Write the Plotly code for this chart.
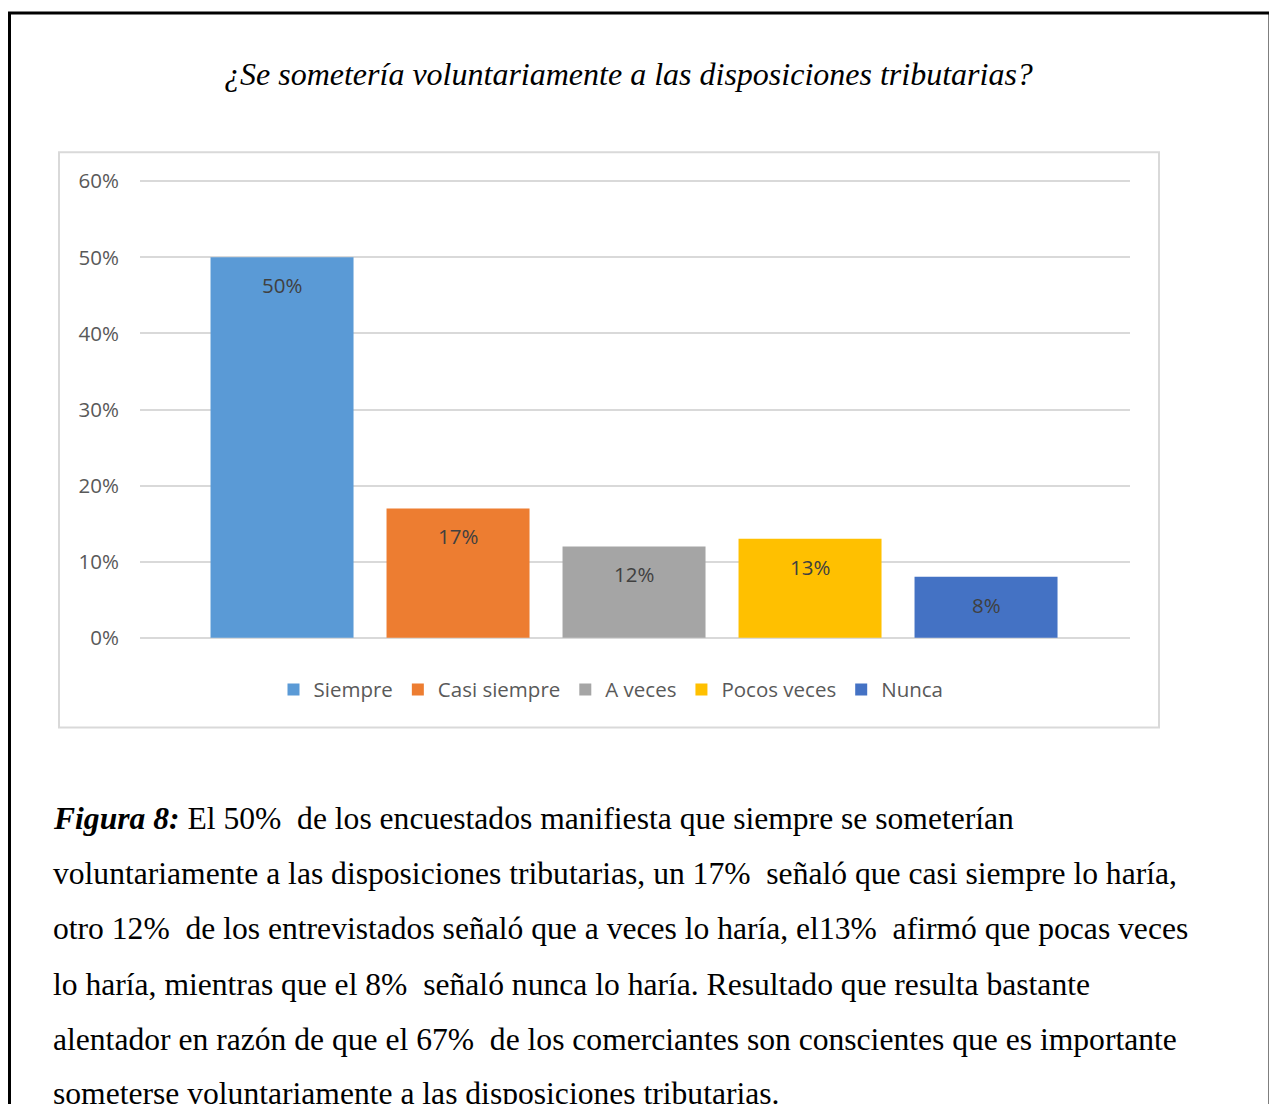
import plotly.graph_objects as go

# ---- data ----
categories = ["Siempre", "Casi siempre", "A veces", "Pocos veces", "Nunca"]
values = [0.50, 0.17, 0.12, 0.13, 0.08]
value_labels = ["50%", "17%", "12%", "13%", "8%"]
tick_vals = [0, 0.1, 0.2, 0.3, 0.4, 0.5, 0.6]
tick_text = ["0%", "10%", "20%", "30%", "40%", "50%", "60%"]
colors = ["#5A9AD6", "#ED7D31", "#A5A5A5", "#FFC000", "#4472C4"]

title_text = "<i>¿Se sometería voluntariamente a las disposiciones tributarias?</i>"
caption_lines = [
    "<b><i>Figura 8:</i></b> El 50%  de los encuestados manifiesta que siempre se someterían",
    "voluntariamente a las disposiciones tributarias, un 17%  señaló que casi siempre lo haría,",
    "otro 12%  de los entrevistados señaló que a veces lo haría, el13%  afirmó que pocas veces",
    "lo haría, mientras que el 8%  señaló nunca lo haría. Resultado que resulta bastante",
    "alentador en razón de que el 67%  de los comerciantes son conscientes que es importante",
    "someterse voluntariamente a las disposiciones tributarias.",
]

# ---- layout geometry (reference pixels; page body has an 8px margin) ----
OFF = 8
W, H = 1277 - OFF, 1104 - OFF
YMIN, YMAX = -0.003, 0.603
PX_PER_UNIT = (638 - 181) / 0.6
PL, PR = 140 - OFF, 1130 - OFF
PT = 181 - OFF - (YMAX - 0.6) * PX_PER_UNIT
PB = 638 - OFF + (0 - YMIN) * PX_PER_UNIT


def px_x(x):
    return (x - OFF - PL) / (PR - PL)


def px_y(y):
    return (PB - (y - OFF)) / (PB - PT)


fig = go.Figure()
for cat, val, col in zip(categories, values, colors):
    fig.add_trace(go.Bar(
        x=[cat], y=[val], name=cat, width=0.8125,
        marker=dict(color=col, line=dict(width=0)),
        hoverinfo="skip",
    ))

annotations = []
for cat, val, lab in zip(categories, values, value_labels):
    annotations.append(dict(
        x=cat, y=val, xref="x", yref="y", text=lab, showarrow=False,
        yanchor="middle", yshift=-28,
        font=dict(family="Open Sans", size=20.5, color="#404040"),
    ))

annotations.append(dict(
    x=px_x(628), y=px_y(74), xref="paper", yref="paper", text=title_text,
    showarrow=False, xanchor="center", yanchor="middle",
    font=dict(family="Liberation Serif", size=32, color="#000000"),
))

line_ys = [819, 874, 929, 985, 1040, 1094]
for txt, ly in zip(caption_lines, line_ys):
    annotations.append(dict(
        x=px_x(51), y=px_y(ly), xref="paper", yref="paper", text=txt,
        showarrow=False, xanchor="left", yanchor="middle", align="left",
        font=dict(family="Liberation Serif", size=31.6, color="#000000"),
    ))

shapes = [
    dict(type="rect", xref="paper", yref="paper",
         x0=px_x(59), x1=px_x(1159), y0=px_y(728), y1=px_y(152),
         line=dict(color="#D9D9D9", width=2), layer="below"),
    dict(type="rect", xref="paper", yref="paper",
         x0=px_x(9.5), x1=px_x(1270), y0=px_y(1130), y1=px_y(12.5),
         line=dict(color="#000000", width=3), layer="below"),
]

fig.update_layout(
    width=W, height=H,
    margin=dict(l=PL, r=W - PR, t=PT, b=H - PB, autoexpand=False),
    paper_bgcolor="white", plot_bgcolor="white",
    barmode="overlay",
    showlegend=True,
    legend=dict(
        orientation="h", x=px_x(611), y=px_y(690), xanchor="center", yanchor="middle",
        font=dict(family="Open Sans", size=20.5, color="#595959"),
        bgcolor="rgba(0,0,0,0)", itemclick=False, itemdoubleclick=False,
    ),
    xaxis=dict(
        range=[-0.807, 4.818], showticklabels=False, showgrid=False,
        zeroline=False, showline=False, ticks="",
    ),
    yaxis=dict(
        range=[YMIN, YMAX], tickvals=tick_vals, ticktext=tick_text,
        showgrid=True, gridcolor="#D9D9D9", gridwidth=1.5,
        zeroline=False, showline=False, ticks="",
        ticklabelstandoff=20,
        tickfont=dict(family="Open Sans", size=20.5, color="#595959"),
    ),
    annotations=annotations,
    shapes=shapes,
)

fig.write_html("out.html")
